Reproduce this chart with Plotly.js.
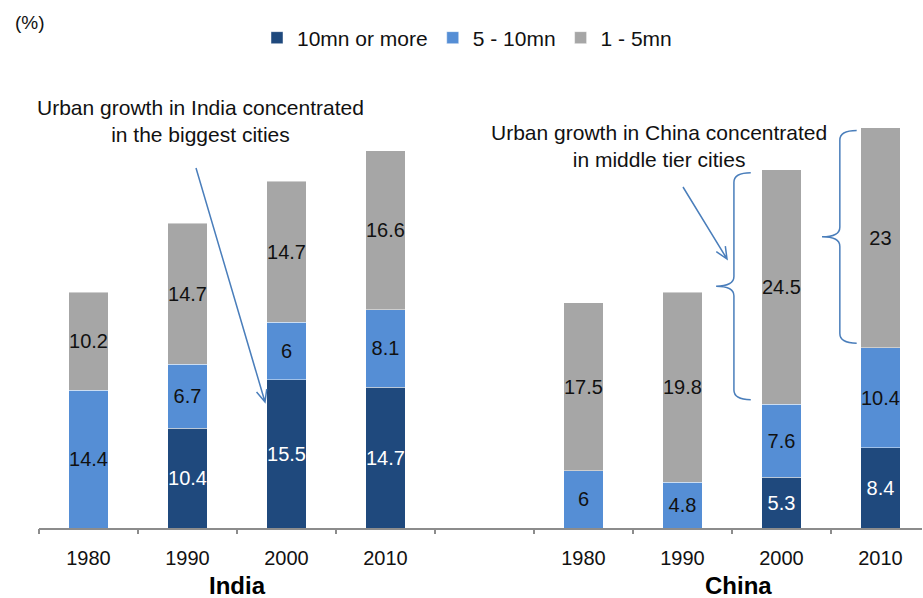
<!DOCTYPE html>
<html>
<head>
<meta charset="utf-8">
<script src="https://cdn.plot.ly/plotly-3.0.1.min.js"></script>
<style>
  html, body { margin: 0; padding: 0; background: #ffffff; }
  #chart { width: 923px; height: 598px; }
</style>
</head>
<body>
<div id="chart"></div>
<script>
// Slot positions on the x axis: India 0-3, an empty slot at 4, China 5-8
const slots = [0, 1, 2, 3, 5, 6, 7, 8];
const yearLabels = ['1980', '1990', '2000', '2010', '1980', '1990', '2000', '2010'];
const countries = ['India', 'China'];
const countrySlots = [[0, 1, 2, 3], [5, 6, 7, 8]];

// Share of urban population by city size (%)
const tenPlus = [null, 10.4, 15.5, 14.7, null, null, 5.3, 8.4];
const fiveToTen = [14.4, 6.7, 6, 8.1, 6, 4.8, 7.6, 10.4];
const oneToFive = [10.2, 14.7, 14.7, 16.6, 17.5, 19.8, 24.5, 23];

const seriesNames = ['10mn or more', '5 - 10mn', '1 - 5mn'];
const seriesColors = ['#1f497d', '#558ed5', '#a6a6a6'];
const labelColors = ['#ffffff', '#111111', '#111111'];

const FONT = 'Liberation Sans, Arial, sans-serif';

// Layout geometry in pixels (used to place callout arrows and braces)
const W = 923, H = 598;
const M = { l: 39, r: 1, t: 97, b: 70 };
const X_RANGE = [-0.5, 8.42];
const Y_RANGE = [0, 45];
const plotW = W - M.l - M.r, plotH = H - M.t - M.b;
const px2x = px => X_RANGE[0] + (px - M.l) / plotW * (X_RANGE[1] - X_RANGE[0]);
const py2y = py => Y_RANGE[0] + (H - M.b - py) / plotH * (Y_RANGE[1] - Y_RANGE[0]);

const allSeries = [tenPlus, fiveToTen, oneToFive];
const traces = allSeries.map((vals, i) => ({
  type: 'bar',
  name: seriesNames[i],
  x: slots,
  y: vals,
  width: 0.4,
  marker: { color: seriesColors[i], line: { color: 'rgba(255,255,255,0.45)', width: 1 } },
  text: vals.map(v => (v == null ? '' : String(v))),
  textposition: 'inside',
  insidetextanchor: 'middle',
  constraintext: 'none',
  textangle: 0,
  insidetextfont: { family: FONT, size: 20, color: labelColors[i] },
  hoverinfo: 'skip'
}));

// Empty trace that owns the overlay axis carrying the category-boundary ticks
traces.push({ type: 'scatter', x: [], y: [], xaxis: 'x2', showlegend: false, hoverinfo: 'skip' });

const boundaries = [];
for (let b = -0.5; b <= 8.5; b += 1) boundaries.push(b);

// Open "V" arrow drawn from tail to tip (pixel coordinates)
function arrowPath(x0, y0, x1, y1) {
  const ang = Math.atan2(y1 - y0, x1 - x0);
  const len = 13, spread = 0.42;
  const a1 = [x1 - len * Math.cos(ang - spread), y1 - len * Math.sin(ang - spread)];
  const a2 = [x1 - len * Math.cos(ang + spread), y1 - len * Math.sin(ang + spread)];
  const p = (x, y) => px2x(x) + ',' + py2y(y);
  return 'M' + p(x0, y0) + 'L' + p(x1, y1) + 'M' + p(a1[0], a1[1]) + 'L' + p(x1, y1) + 'L' + p(a2[0], a2[1]);
}

// Left-pointing curly brace spanning a bar segment (data coordinates)
function bracePath(slot, yBottom, yTop, dxEnd, dxLine, dxTip) {
  const xe = slot + dxEnd, xv = slot + dxLine, xt = slot + dxTip;
  const yt = yTop - 0.3, yb = yBottom + 0.5, ym = (yt + yb) / 2;
  const r = 1.0;
  return 'M' + xe + ',' + yt +
    'Q' + xv + ',' + yt + ' ' + xv + ',' + (yt - r) +
    'L' + xv + ',' + (ym + r) +
    'Q' + xv + ',' + ym + ' ' + xt + ',' + ym +
    'Q' + xv + ',' + ym + ' ' + xv + ',' + (ym - r) +
    'L' + xv + ',' + (yb + r) +
    'Q' + xv + ',' + yb + ' ' + xe + ',' + yb;
}

const LINE_BLUE = '#4a7ebb';
const c2000 = slots.indexOf(7), c2010 = slots.indexOf(8);
const base2000 = (tenPlus[c2000] || 0) + fiveToTen[c2000];
const base2010 = (tenPlus[c2010] || 0) + fiveToTen[c2010];

const shapes = [
  { type: 'path', xref: 'x', yref: 'y', path: arrowPath(196, 168, 265, 402), line: { color: LINE_BLUE, width: 1.5 } },
  { type: 'path', xref: 'x', yref: 'y', path: arrowPath(683, 187, 727, 259), line: { color: LINE_BLUE, width: 1.5 } },
  { type: 'path', xref: 'x', yref: 'y', path: bracePath(7, base2000, base2000 + oneToFive[c2000], -0.31, -0.48, -0.66), line: { color: LINE_BLUE, width: 1.5 } },
  { type: 'path', xref: 'x', yref: 'y', path: bracePath(8, base2010, base2010 + oneToFive[c2010], -0.24, -0.41, -0.59), line: { color: LINE_BLUE, width: 1.5 } }
];

const annotations = [
  { xref: 'paper', yref: 'paper', x: (13 - M.l) / plotW, y: (H - M.b - 22) / plotH,
    xanchor: 'left', yanchor: 'middle', text: '(%)', showarrow: false,
    font: { family: FONT, size: 19, color: '#111111' } },
  { xref: 'x', yref: 'y', x: px2x(200), y: py2y(120.5), xanchor: 'center', yanchor: 'middle',
    text: 'Urban growth in India concentrated<br>in the biggest cities', showarrow: false, align: 'center',
    font: { family: FONT, size: 21, color: '#111111' } },
  { xref: 'x', yref: 'y', x: px2x(659), y: py2y(146), xanchor: 'center', yanchor: 'middle',
    text: 'Urban growth in China concentrated<br>in middle tier cities', showarrow: false, align: 'center',
    font: { family: FONT, size: 21, color: '#111111' } }
];

countries.forEach((name, i) => {
  const s = countrySlots[i];
  annotations.push({
    xref: 'x', yref: 'paper', x: (s[0] + s[s.length - 1]) / 2, y: (H - M.b - 585) / plotH,
    xshift: i === 1 ? 7 : 1,
    xanchor: 'center', yanchor: 'middle', text: '<b>' + name + '</b>', showarrow: false,
    font: { family: FONT, size: 24, color: '#000000' }
  });
});

const layout = {
  width: W, height: H,
  margin: M,
  paper_bgcolor: '#ffffff', plot_bgcolor: '#ffffff',
  barmode: 'stack',
  font: { family: FONT, size: 20, color: '#111111' },
  showlegend: true,
  legend: {
    orientation: 'h', x: (467 - M.l) / plotW, xanchor: 'center',
    y: (H - M.b - 38) / plotH, yanchor: 'middle',
    font: { family: FONT, size: 21, color: '#111111' },
    traceorder: 'normal', bgcolor: 'rgba(0,0,0,0)'
  },
  xaxis: {
    range: X_RANGE, tickmode: 'array', tickvals: slots, ticktext: yearLabels,
    ticks: '', showline: true, linecolor: '#8c8c8c', linewidth: 1.5,
    showgrid: false, zeroline: false, fixedrange: true, ticklabelstandoff: 11,
    tickfont: { family: FONT, size: 20, color: '#111111' }
  },
  xaxis2: {
    overlaying: 'x', anchor: 'y', side: 'bottom', range: X_RANGE,
    tickmode: 'array', tickvals: boundaries, ticks: 'outside', ticklen: 5,
    tickwidth: 1.5, tickcolor: '#8c8c8c', showticklabels: false,
    showline: false, showgrid: false, zeroline: false, fixedrange: true
  },
  yaxis: { range: Y_RANGE, visible: false, fixedrange: true, showgrid: false, zeroline: false },
  shapes: shapes,
  annotations: annotations
};

Plotly.newPlot('chart', traces, layout, { displayModeBar: false, staticPlot: true });
</script>
</body>
</html>
